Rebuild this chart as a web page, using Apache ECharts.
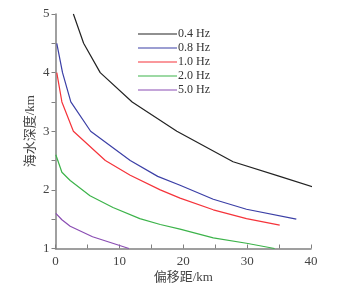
<!DOCTYPE html>
<html>
<head>
<meta charset="utf-8">
<script src="https://cdn.jsdelivr.net/npm/echarts@6/dist/echarts.min.js"></script>
<style>
  html, body { margin: 0; padding: 0; background: #fff; }
  #chart { width: 358px; height: 288px; }
</style>
</head>
<body>
<div id="chart"></div>
<script>
// 频率名称
const names = ["0.4 Hz", "0.8 Hz", "1.0 Hz", "2.0 Hz", "5.0 Hz"];
const colors = ["#222222", "#3b3fa6", "#f5333a", "#3cb34a", "#8a4db3"];

// 各频率曲线：[偏移距 km, 海水深度 km]
const f04 = [[2.8, 5.0], [4.4, 4.5], [7.0, 4.0], [12.0, 3.5], [19.0, 3.0], [27.8, 2.48], [35.1, 2.23], [41.7, 2.0]];
const f08 = [[0.2, 4.5], [1.1, 4.0], [2.4, 3.5], [5.5, 3.0], [11.7, 2.5], [16.0, 2.23], [19.5, 2.08], [24.7, 1.84], [29.9, 1.67], [37.7, 1.5]];
const f10 = [[0.2, 4.0], [1.0, 3.5], [2.8, 3.0], [7.8, 2.5], [11.7, 2.25], [16.4, 2.0], [19.5, 1.86], [24.7, 1.66], [29.9, 1.51], [35.1, 1.4]];
const f20 = [[0.05, 2.6], [1.0, 2.3], [2.3, 2.16], [5.4, 1.9], [9.0, 1.7], [13.2, 1.51], [16.4, 1.41], [19.5, 1.33], [24.7, 1.18], [29.9, 1.09], [34.3, 1.0]];
const f50 = [[0.05, 1.6], [1.0, 1.49], [2.3, 1.38], [5.8, 1.2], [11.5, 1.0]];
const curves = [f04, f08, f10, f20, f50];

const font = '"Liberation Serif", "Noto Sans CJK SC", serif';
const axisColor = "#808080";

const chart = echarts.init(document.getElementById("chart"));
chart.setOption({
  animation: false,
  grid: { left: 55.5, right: 47, top: 14, bottom: 39.5, outerBoundsMode: "none", containLabel: false },
  legend: {
    orient: "vertical",
    left: 133,
    top: 22,
    itemWidth: 39,
    itemHeight: 14,
    itemGap: 0,
    icon: "path://M0,6.5 L39,6.5 L39,7.5 L0,7.5 Z",
    textStyle: { fontFamily: font, fontSize: 12, color: "#333", padding: [0, 0, 0, -4], lineHeight: 14 },
    data: names,
  },
  xAxis: {
    type: "value",
    min: 0,
    max: 40,
    interval: 10,
    name: "偏移距/km",
    nameLocation: "middle",
    nameGap: 23,
    nameMoveOverlap: false,
    nameTextStyle: { fontFamily: font, fontSize: 13, color: "#444" },
    axisLine: { lineStyle: { color: axisColor, width: 1.5 } },
    axisTick: { inside: true, length: 4, lineStyle: { color: axisColor, width: 1 } },
    minorTick: { show: true, splitNumber: 2, length: 4, lineStyle: { color: axisColor, width: 1 } },
    axisLabel: { fontFamily: font, fontSize: 13, color: "#444", margin: 7 },
    splitLine: { show: false },
  },
  yAxis: {
    type: "value",
    min: 1,
    max: 5,
    interval: 1,
    name: "海水深度/km",
    nameLocation: "middle",
    nameRotate: 90,
    nameGap: 18,
    nameMoveOverlap: false,
    nameTextStyle: { fontFamily: font, fontSize: 13, color: "#444" },
    axisLine: { show: true, lineStyle: { color: axisColor, width: 1.5 } },
    axisTick: { show: true, length: 4, lineStyle: { color: axisColor, width: 1 } },
    minorTick: { show: true, splitNumber: 2, length: 4, lineStyle: { color: axisColor, width: 1 } },
    axisLabel: { fontFamily: font, fontSize: 13, color: "#444", margin: 6 },
    splitLine: { show: false },
  },
  series: curves.map((d, i) => ({
    name: names[i],
    type: "line",
    data: d,
    symbol: "none",
    clip: false,
    color: colors[i],
    lineStyle: { width: 1.2, color: colors[i] },
  })),
});
</script>
</body>
</html>
